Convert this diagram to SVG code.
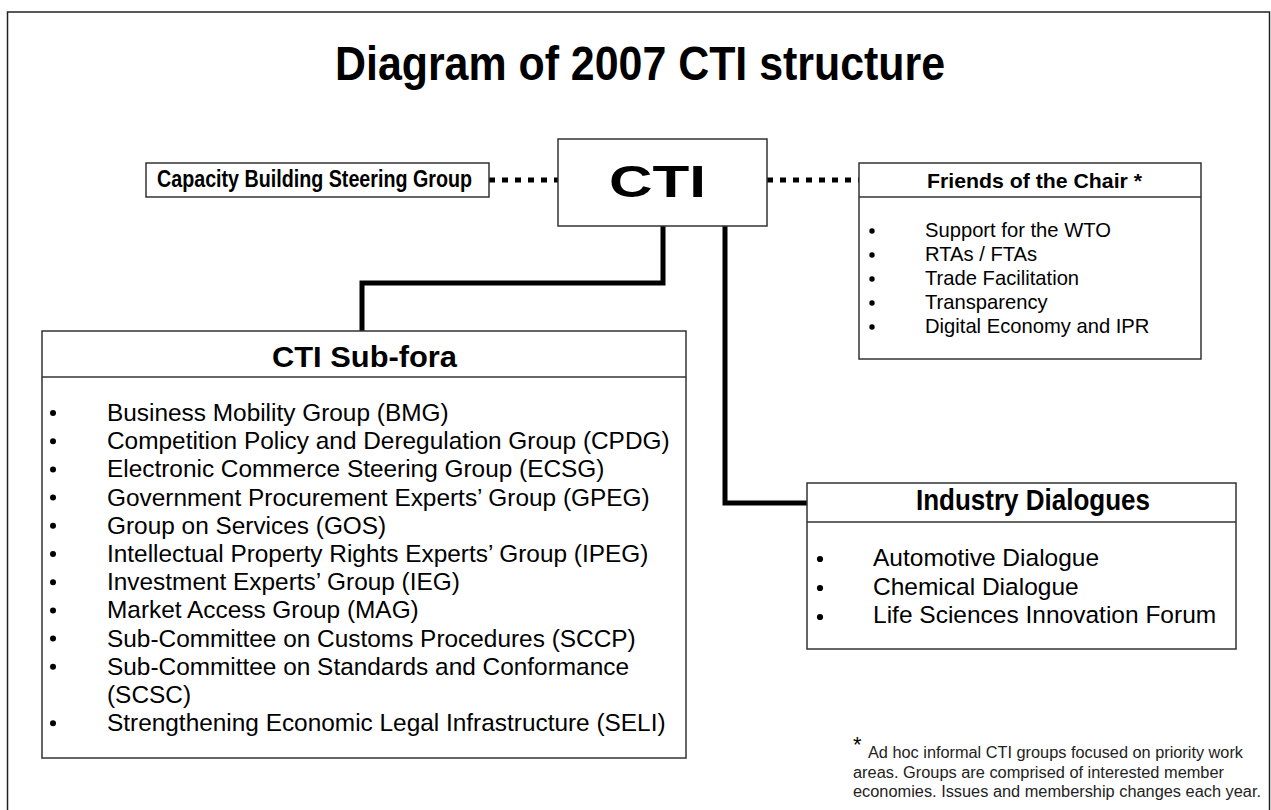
<svg xmlns="http://www.w3.org/2000/svg" width="1271" height="810" viewBox="0 0 1271 810">
  <style>
    text { font-family: "Liberation Sans", Arial, sans-serif; fill: #000; }
    .hd { font-weight: bold; }
    .box { fill: #fff; stroke: #333; stroke-width: 1.5; }
    .rule { stroke: #333; stroke-width: 1.5; fill: none; }
    .item { font-size: 24.4px; }
    .fitem { font-size: 20.2px; }
    .iitem { font-size: 24.5px; }
    .note { font-size: 16px; fill: #222; }
    .solid { fill: none; stroke: #000; stroke-width: 5; }
    .dotted { fill: none; stroke: #000; stroke-width: 5; stroke-dasharray: 6 7; }
    .dot { fill: #000; }
  </style>

  <rect x="0" y="0" width="1271" height="810" fill="#fff"/>
  <!-- page frame -->
  <rect x="7.5" y="12" width="1262" height="805" fill="none" stroke="#222" stroke-width="1.5"/>

  <text class="hd" x="335" y="80" font-size="48" textLength="610" lengthAdjust="spacingAndGlyphs">Diagram of 2007 CTI structure</text>

  <!-- connectors -->
  <g id="connectors">
    <path class="dotted" d="M489,180 H558"/>
    <path class="dotted" d="M767,180 H859"/>
    <path class="solid" d="M663,226 V283 H362 V331"/>
    <path class="solid" d="M725,226 V503 H807"/>
  </g>

  <g id="cbsg">
    <rect class="box" x="146" y="163" width="343" height="34"/>
    <text class="hd" x="157" y="187" font-size="24" textLength="315" lengthAdjust="spacingAndGlyphs">Capacity Building Steering Group</text>
  </g>

  <g id="cti">
    <rect class="box" x="558" y="139" width="209" height="87"/>
    <text class="hd" x="609" y="197" font-size="44" textLength="97" lengthAdjust="spacingAndGlyphs">CTI</text>
  </g>

  <g id="friends">
    <rect class="box" x="859" y="163" width="342" height="196"/>
    <line class="rule" x1="859" y1="197" x2="1201" y2="197"/>
    <text class="hd" x="927" y="188" font-size="21" textLength="215" lengthAdjust="spacingAndGlyphs">Friends of the Chair *</text>
    <circle class="dot" cx="872" cy="231" r="2.7"/>
    <circle class="dot" cx="872" cy="255" r="2.7"/>
    <circle class="dot" cx="872" cy="279" r="2.7"/>
    <circle class="dot" cx="872" cy="303" r="2.7"/>
    <circle class="dot" cx="872" cy="327" r="2.7"/>
    <text class="fitem" x="925" y="237">Support for the WTO</text>
    <text class="fitem" x="925" y="261">RTAs / FTAs</text>
    <text class="fitem" x="925" y="285">Trade Facilitation</text>
    <text class="fitem" x="925" y="309">Transparency</text>
    <text class="fitem" x="925" y="333">Digital Economy and IPR</text>
  </g>

  <g id="subfora">
    <rect class="box" x="42" y="331" width="644" height="427"/>
    <line class="rule" x1="42" y1="377" x2="686" y2="377"/>
    <text class="hd" x="272" y="367" font-size="29" textLength="185" lengthAdjust="spacingAndGlyphs">CTI Sub-fora</text>
    <g class="dot">
      <circle cx="53" cy="413" r="3"/>
      <circle cx="53" cy="441.2" r="3"/>
      <circle cx="53" cy="469.4" r="3"/>
      <circle cx="53" cy="497.6" r="3"/>
      <circle cx="53" cy="525.8" r="3"/>
      <circle cx="53" cy="554" r="3"/>
      <circle cx="53" cy="582.2" r="3"/>
      <circle cx="53" cy="610.4" r="3"/>
      <circle cx="53" cy="638.6" r="3"/>
      <circle cx="53" cy="666.8" r="3"/>
      <circle cx="53" cy="723.2" r="3"/>
    </g>
    <text class="item" x="107" y="421">Business Mobility Group (BMG)</text>
    <text class="item" x="107" y="449.2">Competition Policy and Deregulation Group (CPDG)</text>
    <text class="item" x="107" y="477.4">Electronic Commerce Steering Group (ECSG)</text>
    <text class="item" x="107" y="505.6">Government Procurement Experts’ Group (GPEG)</text>
    <text class="item" x="107" y="533.8">Group on Services (GOS)</text>
    <text class="item" x="107" y="562">Intellectual Property Rights Experts’ Group (IPEG)</text>
    <text class="item" x="107" y="590.2">Investment Experts’ Group (IEG)</text>
    <text class="item" x="107" y="618.4">Market Access Group (MAG)</text>
    <text class="item" x="107" y="646.6">Sub-Committee on Customs Procedures (SCCP)</text>
    <text class="item" x="107" y="674.8">Sub-Committee on Standards and Conformance</text>
    <text class="item" x="107" y="703">(SCSC)</text>
    <text class="item" x="107" y="731.2">Strengthening Economic Legal Infrastructure (SELI)</text>
  </g>

  <g id="industry">
    <rect class="box" x="807" y="483" width="429" height="166"/>
    <line class="rule" x1="807" y1="522" x2="1236" y2="522"/>
    <text class="hd" x="916" y="510" font-size="29" textLength="234" lengthAdjust="spacingAndGlyphs">Industry Dialogues</text>
    <circle class="dot" cx="820" cy="559" r="3.1"/>
    <circle class="dot" cx="820" cy="588" r="3.1"/>
    <circle class="dot" cx="820" cy="617" r="3.1"/>
    <text class="iitem" x="873" y="566">Automotive Dialogue</text>
    <text class="iitem" x="873" y="594.5">Chemical Dialogue</text>
    <text class="iitem" x="873" y="623">Life Sciences Innovation Forum</text>
  </g>

  <g id="footnote">
    <text x="853" y="752" font-size="22">*</text>
    <text class="note" x="868" y="758" textLength="375" lengthAdjust="spacingAndGlyphs">Ad hoc informal CTI groups focused on priority work</text>
    <text class="note" x="853" y="778" textLength="371" lengthAdjust="spacingAndGlyphs">areas. Groups are comprised of interested member</text>
    <text class="note" x="853" y="797" textLength="408" lengthAdjust="spacingAndGlyphs">economies. Issues and membership changes each year.</text>
  </g>
</svg>
